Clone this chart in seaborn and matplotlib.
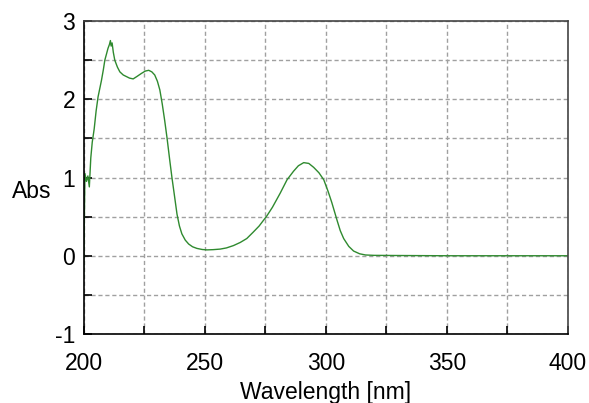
import matplotlib
matplotlib.use("Agg")
import matplotlib.pyplot as plt
import matplotlib.ticker as ticker
import seaborn as sns

# spectrum
wavelength = [200.0, 200.3, 200.6, 201.2, 201.8, 202.4, 203.0, 203.6, 204.4, 205.2,
              206.0, 206.8, 207.4, 208.2, 208.8, 209.5, 210.1, 210.7, 211.1, 211.4,
              211.8, 212.3, 212.9, 214.0, 215.0, 216.4, 217.7, 219.0, 220.5, 222.0,
              223.9, 225.5, 226.9, 228.2, 229.4, 230.5, 231.5, 232.5, 233.5, 234.5,
              235.6, 236.5, 237.4, 238.6, 239.6, 240.6, 242.0, 243.4, 245.0, 246.8,
              249.0, 251.0, 253.5, 256.4, 259.0, 261.9, 264.7, 267.4, 270.0, 272.5,
              275.7, 278.0, 281.2, 284.0, 286.7, 288.7, 290.9, 293.0, 295.0, 297.2,
              299.2, 301.0, 302.5, 304.7, 306.0, 307.4, 309.5, 311.5, 314.0, 316.4,
              320.0, 330.0, 350.0, 400.0]
absorbance = [-0.30, 0.40, 1.05, 0.95, 1.02, 0.88, 1.25, 1.45, 1.62, 1.85,
              2.03, 2.15, 2.24, 2.38, 2.50, 2.58, 2.65, 2.70, 2.75, 2.68,
              2.72, 2.60, 2.50, 2.41, 2.35, 2.31, 2.29, 2.27, 2.26, 2.29,
              2.33, 2.36, 2.37, 2.35, 2.31, 2.23, 2.12, 1.94, 1.73, 1.50,
              1.22, 1.00, 0.80, 0.53, 0.38, 0.28, 0.20, 0.15, 0.115, 0.094,
              0.080, 0.075, 0.078, 0.085, 0.100, 0.130, 0.170, 0.220, 0.300, 0.380,
              0.510, 0.620, 0.800, 0.970, 1.080, 1.150, 1.190, 1.180, 1.130, 1.060,
              0.970, 0.820, 0.680, 0.450, 0.320, 0.220, 0.120, 0.060, 0.025, 0.010,
              0.005, 0.003, 0.0, 0.0]

sns.set_style("white")
plt.rcParams['font.family'] = ['Liberation Sans', 'DejaVu Sans']
plt.rcParams['text.color'] = 'black'
plt.rcParams['axes.labelcolor'] = 'black'
plt.rcParams['xtick.color'] = 'black'
plt.rcParams['ytick.color'] = 'black'

fig = plt.figure(figsize=(5.89, 4.03), dpi=100)
ax = fig.add_axes([0.1418, 0.1712, 0.8225, 0.7767])

sns.lineplot(x=wavelength, y=absorbance, color='#2f8a2f', linewidth=1.0,
             estimator=None, ax=ax)

ax.set_xlim(200, 400)
ax.set_ylim(-1, 3)
ax.xaxis.set_major_locator(ticker.MultipleLocator(50))
ax.xaxis.set_minor_locator(ticker.MultipleLocator(25))
ax.yaxis.set_major_locator(ticker.MultipleLocator(1))
ax.yaxis.set_minor_locator(ticker.MultipleLocator(0.5))
ax.yaxis.set_major_formatter(ticker.FuncFormatter(lambda v, p: f"{v:g}".replace("\u2212", "-")))

ax.grid(True, which='both', color='#a0a0a0', linestyle=(0, (3, 2)), linewidth=1.0)
ax.tick_params(which='both', direction='in', length=6, width=1.2, color='black',
               left=True, bottom=True, top=False, right=False)
ax.tick_params(axis='x', which='major', labelsize=16.5, pad=13)
ax.tick_params(axis='y', which='major', labelsize=16.5, pad=6)

for side in ['left', 'bottom']:
    ax.spines[side].set_color('black')
    ax.spines[side].set_linewidth(1.2)
for side in ['top', 'right']:
    ax.spines[side].set_color('#444444')
    ax.spines[side].set_linewidth(1.2)

ax.set_xlabel('Wavelength [nm]', fontsize=16.5, labelpad=4)
ax.set_ylabel('Abs', fontsize=16.5, rotation=0, ha='center', va='center')
ax.yaxis.set_label_coords(-0.106, 0.455)

fig.savefig('out.png', dpi=100)
